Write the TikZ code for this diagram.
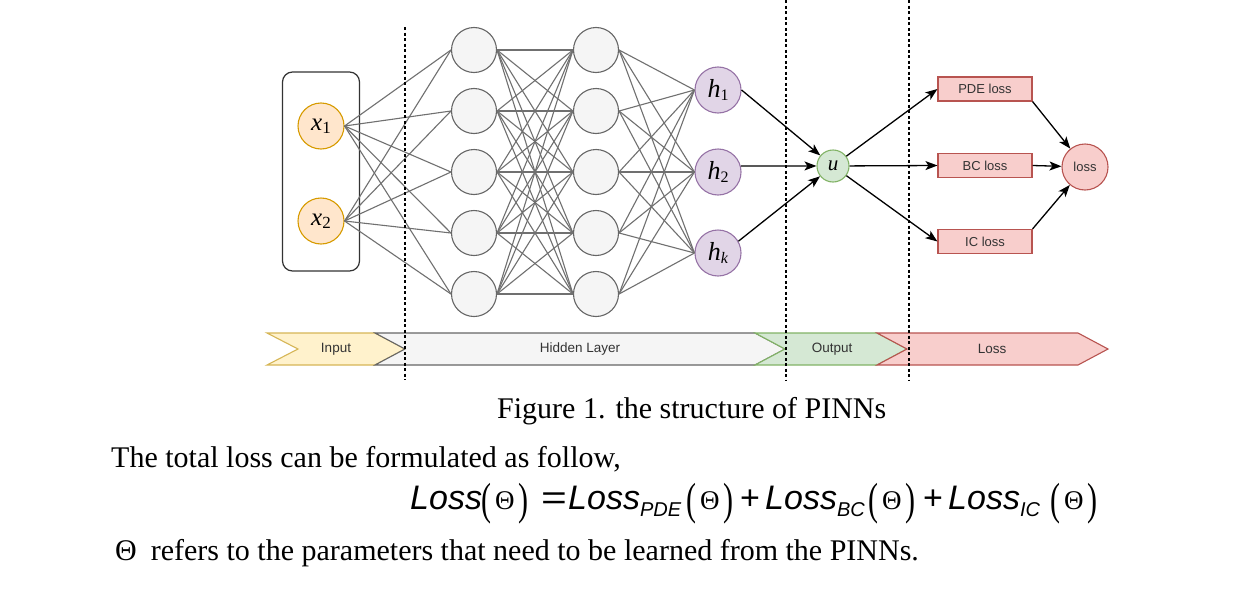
\documentclass[tikz,border=0pt]{standalone}
\usepackage{fontspec}
\setmainfont{Liberation Serif}
\newfontfamily\arialf{Liberation Sans}
\usetikzlibrary{arrows.meta}
\definecolor{ofill}{HTML}{FFE6CC}\definecolor{ostroke}{HTML}{D79B00}
\definecolor{gfill}{HTML}{F5F5F5}\definecolor{gstroke}{HTML}{666666}
\definecolor{pfill}{HTML}{E1D5E7}\definecolor{pstroke}{HTML}{9673A6}
\definecolor{grfill}{HTML}{D5E8D4}\definecolor{grstroke}{HTML}{82B366}
\definecolor{rfill}{HTML}{F8CECC}\definecolor{rstroke}{HTML}{B85450}
\definecolor{yfill}{HTML}{FFF2CC}\definecolor{ystroke}{HTML}{D6B656}
\definecolor{edgegrey}{HTML}{707070}\definecolor{darktxt}{HTML}{333333}
\newcommand\Lss{{\arialf\itshape\fontsize{34}{34}\selectfont Loss}}
\newcommand\lsub[1]{\raisebox{-7pt}{\arialf\itshape\fontsize{20}{20}\selectfont #1}}
\newcommand\pgrp{\raisebox{-5pt}{\scalebox{1}[1.5]{\fontsize{30}{30}\selectfont(}}\hspace{4pt}{\fontsize{27}{27}\selectfont Θ}\hspace{4pt}\raisebox{-5pt}{\scalebox{1}[1.5]{\fontsize{30}{30}\selectfont)}}}
\begin{document}
\begin{tikzpicture}[x=1pt,y=-1pt,
  hid/.style={circle,draw=gstroke,fill=gfill,line width=1.1pt,minimum size=45pt,inner sep=0pt},
  inn/.style={circle,draw=ostroke,fill=ofill,line width=1.1pt,minimum size=46pt,inner sep=0pt,font=\fontsize{25}{25}\selectfont\itshape},
  hn/.style={circle,draw=pstroke,fill=pfill,line width=1.1pt,minimum size=46pt,inner sep=0pt,font=\fontsize{26}{26}\selectfont\itshape},
  edge/.style={draw=edgegrey,line width=1.1pt},
  arr/.style={-{Stealth[length=12pt,width=9pt,inset=3pt]},line width=1.3pt,black},
  dline/.style={dash pattern=on 3pt off 2.5pt,line width=1.3pt,black},
  lossbox/.style={rectangle,draw=rstroke,fill=rfill,line width=1.1pt,minimum width=94pt,minimum height=24pt,inner sep=0pt,font=\arialf\fontsize{13}{13}\selectfont,text=darktxt},
  bandtxt/.style={font=\arialf\fontsize{13.5}{13.5}\selectfont,text=darktxt,inner sep=0pt},
  ftxt/.style={anchor=base west,inner sep=0pt}]
\useasboundingbox (0,0) rectangle (1238,589);
\fill[white] (0,0) rectangle (1238,589);

% input box
\node[draw=black!80,line width=1.2pt,rounded corners=10pt,minimum width=77pt,minimum height=199pt,inner sep=0pt] (inbox) at (321,171.5) {};
\node[inn] (x1) at (321,126) {x\raisebox{-0.3ex}{\upshape\fontsize{17}{17}\selectfont 1}};
\node[inn] (x2) at (321,221) {x\raisebox{-0.3ex}{\upshape\fontsize{17}{17}\selectfont 2}};

% hidden layers
\foreach \i/\y in {1/50,2/111,3/172,4/233,5/294}{
  \node[hid] (a\i) at (474,\y) {};
  \node[hid] (b\i) at (596,\y) {};
}
% h nodes
\node[hn] (h1) at (718,90) {h\raisebox{-0.3ex}{\upshape\fontsize{16}{16}\selectfont 1}};
\node[hn] (h2) at (718,172) {h\raisebox{-0.3ex}{\upshape\fontsize{16}{16}\selectfont 2}};
\node[hn] (hk) at (718,253) {h\raisebox{-0.3ex}{\fontsize{16}{16}\selectfont k}};
\node[circle,draw=grstroke,fill=grfill,line width=1.1pt,minimum size=32pt,inner sep=0pt,font=\fontsize{21}{21}\selectfont\itshape] (u) at (833,166) {u};

% grey edges
\foreach \s in {x1,x2}{\foreach \t in {a1,a2,a3,a4,a5}{\draw[edge] (\s.east) -- (\t.west);}}
\foreach \s in {a1,a2,a3,a4,a5}{\foreach \t in {b1,b2,b3,b4,b5}{\draw[edge] (\s.east) -- (\t.west);}}
\foreach \s in {b1,b2,b3,b4,b5}{\foreach \t in {h1,h2,hk}{\draw[edge] (\s.east) -- (\t.west);}}

% loss boxes
\node[lossbox] (pde) at (985,89) {PDE loss};
\node[lossbox] (bc) at (985,165.5) {BC loss};
\node[lossbox] (ic) at (985,241.5) {IC loss};
\node[circle,draw=rstroke,fill=rfill,line width=1.1pt,minimum size=46pt,inner sep=0pt,font=\arialf\fontsize{13}{13}\selectfont,text=darktxt] (loss) at (1085,167) {loss};

% arrows
\draw[arr] (h1.east) -- (u);
\draw[arr] (h2.15) -- (u);
\draw[arr] (hk.30) -- (u);
\draw[arr] (u) -- (pde.west);
\draw[arr] (u) -- (bc.west);
\draw[arr] (u) -- (ic.west);
\draw[arr] (pde.south east) -- (loss);
\draw[arr] (bc.east) -- (loss);
\draw[arr] (ic.north east) -- (loss);

% band
\filldraw[fill=yfill,draw=ystroke,line width=1.1pt] (267,333) -- (375,333) -- (405,349) -- (375,365) -- (267,365) -- (298,349) -- cycle;
\filldraw[fill=gfill,draw=gstroke,line width=1.1pt] (375,333) -- (755,333) -- (785,349) -- (755,365) -- (375,365) -- (405,349) -- cycle;
\filldraw[fill=grfill,draw=grstroke,line width=1.1pt] (755,333) -- (877,333) -- (907,349) -- (877,365) -- (755,365) -- (785,349) -- cycle;
\filldraw[fill=rfill,draw=rstroke,line width=1.1pt] (877,333) -- (1078,333) -- (1108,349) -- (1078,365) -- (877,365) -- (907,349) -- cycle;
\node[bandtxt] (bi) at (336,349) {Input};
\node[bandtxt] (bh) at (580,349) {Hidden Layer};
\node[bandtxt] (bo) at (832,349) {Output};
\node[bandtxt] (bl) at (992,349) {Loss};

% dashed separators
\draw[dline] (405,27) -- (405,380);
\draw[dline] (786,0) -- (786,380);
\draw[dline] (909,0) -- (909,380);

% texts
\node[ftxt,font=\fontsize{30}{30}\selectfont] (cap) at (497,418) {Figure 1. the structure of PINNs};
\node[ftxt,font=\fontsize{30}{30}\selectfont] (t1) at (111,467) {The total loss can be formulated as follow,};
\node[ftxt,font=\fontsize{30}{30}\selectfont] (t2) at (115,560) {Θ\hspace{14pt}refers to the parameters that need to be learned from the PINNs.};

% formula
\node[ftxt] (f1) at (410,509) {\Lss};
\node[ftxt] (f2) at (481,509) {\pgrp};
\node[ftxt] (f3) at (541,509) {\arialf\fontsize{34}{34}\selectfont\scalebox{1.3}[1]{=}};
\node[ftxt] (f4) at (568,509) {\Lss\lsub{PDE}};
\node[ftxt] (f5) at (686,509) {\pgrp};
\node[ftxt] (f6) at (740,509) {\arialf\fontsize{34}{34}\selectfont +};
\node[ftxt] (f7) at (765,509) {\Lss\lsub{BC}};
\node[ftxt] (f8) at (868,509) {\pgrp};
\node[ftxt] (f9) at (923,509) {\arialf\fontsize{34}{34}\selectfont +};
\node[ftxt] (f10) at (948,509) {\Lss\lsub{IC}};
\node[ftxt] (f11) at (1050,509) {\pgrp};
\end{tikzpicture}
\end{document}
